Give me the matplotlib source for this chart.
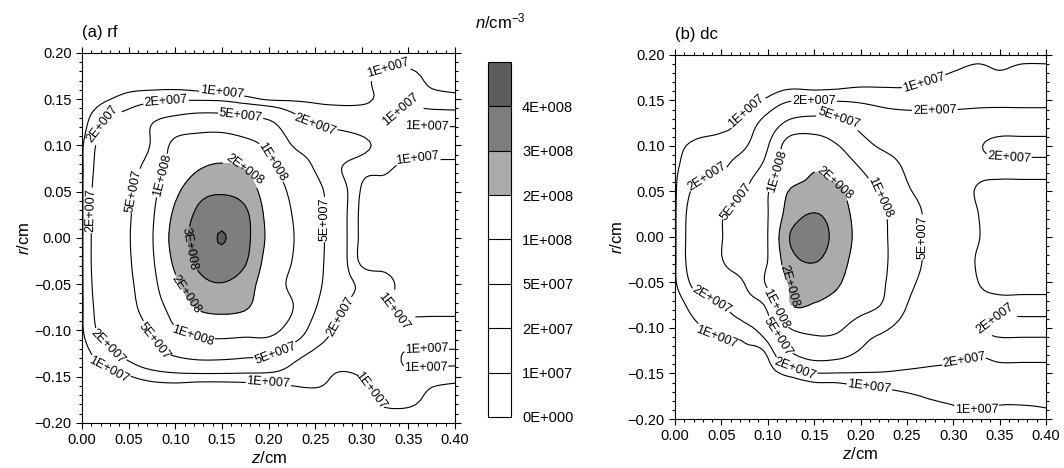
import numpy as np
import matplotlib
matplotlib.use("Agg")
import matplotlib.pyplot as plt
from matplotlib.ticker import MultipleLocator

plt.rcParams['font.family'] = ['Liberation Sans', 'DejaVu Sans']
plt.rcParams['mathtext.fontset'] = 'custom'
plt.rcParams['mathtext.rm'] = 'Liberation Sans'
plt.rcParams['mathtext.it'] = 'Liberation Sans:italic'

# grid of the simulation (cm)
z = [0.0, 0.025, 0.05, 0.075, 0.1, 0.125, 0.15, 0.175, 0.2, 0.225,
     0.25, 0.275, 0.3, 0.325, 0.35, 0.375, 0.4]
r = [0.2, 0.175, 0.15, 0.125, 0.1, 0.075, 0.05, 0.025, 0.0, -0.025,
     -0.05, -0.075, -0.1, -0.125, -0.15, -0.175, -0.2]

# electron density, in units of 1E7 cm^-3
# rows: r from +0.2 down to -0.2, columns: z from 0 to 0.4
rf_n = [
    [0.2, 0.3, 0.5, 0.6, 0.6, 0.6, 0.6, 0.6, 0.6, 0.6, 0.6, 0.6, 0.7, 0.7, 0.7, 0.7, 0.7],
    [0.3, 0.5, 0.6, 0.6, 0.6, 0.6, 0.6, 0.6, 0.65, 0.7, 0.7, 0.8, 0.9, 1.1, 1.1, 0.9, 0.8],
    [0.4, 0.9, 1.3, 1.6, 1.8, 1.8, 1.7, 1.3, 0.9, 0.9, 0.9, 0.9, 0.95, 1.05, 1.05, 1.05, 1.05],
    [0.6, 2.1, 3.0, 4.9, 6.5, 7.5, 7.5, 6.5, 5.5, 3.0, 1.8, 1.5, 1.3, 1.1, 0.95, 0.95, 0.95],
    [0.9, 2.7, 3.8, 5.3, 11.5, 13, 13.5, 12, 9, 5, 3.8, 3.0, 2.3, 1.6, 1.3, 1.3, 1.3],
    [0.9, 3.0, 4.2, 6.5, 13, 19.5, 22, 19.5, 11.5, 7.5, 4.8, 2.2, 1.3, 1.1, 0.8, 0.8, 0.8],
    [0.9, 3.3, 4.5, 8, 18, 27, 29, 26, 15, 9, 6.2, 3.0, 0.9, 0.8, 0.8, 0.8, 0.8],
    [0.9, 3.5, 4.7, 9, 22, 32, 37, 32, 17, 10, 6.5, 3.0, 0.8, 0.8, 0.8, 0.8, 0.8],
    [0.9, 3.5, 4.8, 9.5, 24, 34, 40.4, 33, 18, 10.5, 6.5, 3.0, 0.8, 0.8, 0.8, 0.8, 0.8],
    [0.9, 3.5, 4.7, 9, 22, 32, 37, 31, 16, 10, 6.3, 3.0, 0.8, 0.8, 0.8, 0.8, 0.8],
    [0.9, 3.3, 4.5, 8, 18, 27, 29.5, 25, 14, 9, 6, 2.8, 1.8, 1.2, 0.8, 0.8, 0.8],
    [0.9, 3.0, 4.2, 7, 13, 21, 23, 21, 14, 10.3, 5.2, 2.4, 1.6, 1.1, 0.8, 0.8, 0.8],
    [0.9, 2.6, 3.6, 5.3, 9.5, 12, 12.5, 12, 11.5, 8, 3.5, 1.7, 1.5, 1.3, 1.3, 1.3, 1.3],
    [0.6, 1.6, 2.5, 4.0, 5.5, 6.5, 6.5, 6, 5.5, 3.0, 1.7, 1.5, 1.4, 1.2, 0.95, 0.95, 0.95],
    [0.4, 0.7, 0.95, 1.3, 1.5, 1.5, 1.5, 1.5, 1.5, 1.4, 1.3, 0.9, 1.0, 1.05, 1.05, 1.05, 1.05],
    [0.3, 0.5, 0.5, 0.5, 0.5, 0.5, 0.5, 0.5, 0.5, 0.6, 0.7, 0.8, 0.9, 1.1, 1.1, 0.9, 0.8],
    [0.2, 0.3, 0.4, 0.5, 0.5, 0.5, 0.5, 0.5, 0.5, 0.5, 0.5, 0.6, 0.7, 0.7, 0.7, 0.7, 0.7],
]

dc_n = [
    [0.3, 0.4, 0.4, 0.5, 0.5, 0.5, 0.5, 0.5, 0.5, 0.6, 0.6, 0.7, 0.8, 0.9, 0.9, 0.9, 0.9],
    [0.4, 0.5, 0.55, 0.6, 0.6, 0.6, 0.6, 0.6, 0.65, 0.7, 0.75, 0.95, 1.1, 1.2, 1.1, 1.2, 1.2],
    [0.5, 0.6, 0.65, 0.7, 1.15, 1.9, 1.9, 1.9, 1.8, 1.6, 1.5, 1.6, 1.7, 1.8, 1.8, 1.8, 1.8],
    [0.5, 0.6, 0.75, 1.3, 2.8, 6, 6.8, 6, 4, 3, 2.7, 2.5, 2.4, 2.3, 2.3, 2.3, 2.3],
    [0.8, 1.2, 1.4, 1.8, 4.8, 13, 13.5, 10.3, 6.5, 4.4, 3.5, 3.0, 2.6, 2.1, 1.8, 1.8, 1.8],
    [0.9, 1.5, 1.8, 3.5, 6.5, 14, 19.5, 15, 10, 7.5, 4.5, 3.3, 2.6, 2.2, 2.2, 2.2, 2.2],
    [0.9, 2.5, 3.6, 4.9, 9.6, 21, 22, 22, 13, 9, 5.5, 3.8, 2.6, 1.95, 1.7, 1.7, 1.7],
    [0.9, 3.1, 4.8, 6.6, 9.8, 25, 30.5, 25, 16, 10.5, 7, 4.2, 3.0, 2.05, 1.7, 1.6, 1.6],
    [0.9, 3.2, 4.9, 6.8, 10, 31, 36, 26, 17, 10.8, 7, 4.2, 3.0, 2.1, 1.6, 1.6, 1.6],
    [0.9, 3.2, 4.9, 6.8, 10, 27, 31, 24, 16, 10.8, 7, 4.2, 3.0, 1.95, 1.7, 1.6, 1.6],
    [0.9, 2.6, 3.8, 5.1, 11, 21, 23, 21, 14, 10.4, 6, 4.0, 3.0, 2.05, 1.7, 1.7, 1.7],
    [0.5, 1.5, 1.9, 3.5, 6, 19.8, 19.5, 17, 12.5, 9.5, 5, 3.6, 2.8, 2.3, 2.2, 2.2, 2.2],
    [0.4, 0.9, 1.3, 1.6, 3.5, 10.3, 11.5, 11, 7, 5.5, 3.8, 3.2, 2.6, 2.2, 1.8, 1.8, 1.8],
    [0.3, 0.5, 0.7, 0.8, 1.3, 5.3, 7.5, 7, 4.8, 3.5, 3.0, 2.7, 2.5, 2.1, 2.3, 2.3, 2.3],
    [0.2, 0.3, 0.4, 0.5, 0.7, 1.3, 1.9, 1.9, 1.9, 1.9, 1.8, 1.7, 1.6, 1.5, 1.6, 1.6, 1.6],
    [0.2, 0.3, 0.3, 0.4, 0.5, 0.5, 0.5, 0.5, 0.6, 0.7, 0.9, 1.05, 1.1, 1.15, 1.1, 1.1, 1.1],
    [0.2, 0.2, 0.3, 0.3, 0.4, 0.5, 0.5, 0.6, 0.6, 0.7, 0.7, 0.8, 0.9, 0.9, 0.9, 0.9, 0.95],
]

levels = [0, 1e7, 2e7, 5e7, 1e8, 2e8, 3e8, 4e8, 5e8]
level_labels = ["0E+000", "1E+007", "2E+007", "5E+007", "1E+008",
                "2E+008", "3E+008", "4E+008"]
fill_colors = ["white", "white", "white", "white", "white",
               "#ababab", "#7e7e7e", "#5c5c5c"]

# where the contour labels sit (z, r), roughly as in the paper
rf_label_pos = [(0.02, 0.125), (0.15, 0.158), (0.33, 0.172), (0.34, 0.145),
                (0.37, 0.118), (0.36, 0.085), (0.03, -0.14), (0.2, -0.155),
                (0.3, -0.165), (0.37, -0.15), (0.37, -0.11), (0.33, -0.085),
                (0.006, 0.03), (0.09, 0.148), (0.25, 0.122), (0.03, -0.115),
                (0.21, -0.13), (0.285, -0.09), (0.062, 0.05), (0.17, 0.132),
                (0.265, 0.02), (0.08, -0.11), (0.08, 0.07), (0.21, 0.085),
                (0.12, -0.1), (0.17, 0.068), (0.105, -0.065), (0.125, -0.01)]
dc_label_pos = [(0.08, 0.135), (0.27, 0.165), (0.045, -0.11), (0.21, -0.16),
                (0.325, -0.185), (0.035, 0.062), (0.15, 0.15), (0.28, 0.138),
                (0.36, 0.08), (0.04, -0.065), (0.13, -0.143), (0.31, -0.13),
                (0.34, -0.08), (0.065, 0.04), (0.175, 0.125), (0.265, 0.0),
                (0.11, -0.11), (0.105, 0.075), (0.215, 0.04), (0.105, -0.08),
                (0.17, 0.055), (0.14, -0.05)]


def catmull_rom(vals, f, axis):
    # smooth resampling of the read-off grid for drawing
    a = np.moveaxis(np.asarray(vals, dtype=float), axis, 0)
    n = a.shape[0]
    p = np.concatenate([a[:1], a, a[-1:]], axis=0)
    out = []
    for i in range(n - 1):
        p0, p1, p2, p3 = p[i], p[i + 1], p[i + 2], p[i + 3]
        for t in np.arange(f) / f:
            out.append(0.5 * (2 * p1 + (p2 - p0) * t
                              + (2 * p0 - 5 * p1 + 4 * p2 - p3) * t ** 2
                              + (3 * p1 - p0 - 3 * p2 + p3) * t ** 3))
    out.append(a[-1])
    return np.moveaxis(np.array(out), 0, axis)


up = 6
z_f = catmull_rom(z, up, 0)
r_f = catmull_rom(r, up, 0)

fig = plt.figure(figsize=(10.64, 4.68), dpi=100)
ax_a = fig.add_axes([0.0771, 0.0962, 0.3506, 0.7906])
ax_b = fig.add_axes([0.6344, 0.1047, 0.3487, 0.7778])
cax = fig.add_axes([0.4586, 0.109, 0.0216, 0.7585])

fmt = dict(zip(levels[1:-1], level_labels[1:]))

panels = [(ax_a, rf_n, "(a) rf", rf_label_pos),
          (ax_b, dc_n, "(b) dc", dc_label_pos)]
for ax, data, title, lpos in panels:
    Z = catmull_rom(catmull_rom(data, up, 0), up, 1) * 1e7
    cf = ax.contourf(z_f, r_f, Z, levels=levels, colors=fill_colors)
    cs = ax.contour(z_f, r_f, Z, levels=levels[1:-1], colors="black",
                    linewidths=0.8)
    ax.clabel(cs, fmt=fmt, fontsize=9, inline=True, inline_spacing=1,
              manual=lpos)
    ax.set_xlim(0, 0.4)
    ax.set_ylim(-0.2, 0.2)
    ax.xaxis.set_major_locator(MultipleLocator(0.05))
    ax.yaxis.set_major_locator(MultipleLocator(0.05))
    ax.xaxis.set_minor_locator(MultipleLocator(0.01))
    ax.yaxis.set_minor_locator(MultipleLocator(0.01))
    ax.xaxis.set_major_formatter(lambda v, p: f"{v:.2f}")
    ax.yaxis.set_major_formatter(lambda v, p: f"{v:.2f}".replace("-", "\u2212"))
    ax.tick_params(which="both", direction="out", top=True, right=True,
                   labelsize=10.5, width=0.8)
    ax.tick_params(which="major", length=4)
    ax.tick_params(which="minor", length=2)
    ax.set_xlabel("$z$/cm", fontsize=12, labelpad=2)
    ax.set_ylabel("$r$/cm", fontsize=12, labelpad=2)
    ax.text(0.0, 1.035, title, transform=ax.transAxes, fontsize=12,
            ha="left", va="bottom")
    for s in ax.spines.values():
        s.set_linewidth(0.8)

cbar = fig.colorbar(cf, cax=cax, spacing="uniform", ticks=levels[:-1])
cbar.add_lines(cs)
cbar.ax.set_yticklabels(level_labels)
cbar.ax.tick_params(length=0, labelsize=10.5, pad=8)
cbar.outline.set_linewidth(0.8)
fig.text(0.47, 0.955, "$n$/cm$^{-3}$", fontsize=12, ha="center", va="center")

fig.savefig("out.png", dpi=100)
